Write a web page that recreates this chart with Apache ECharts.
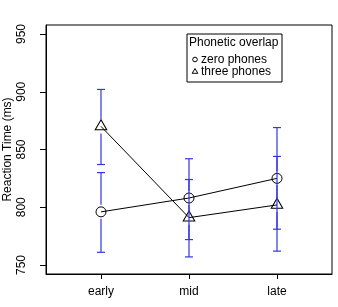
<!DOCTYPE html>
<html>
<head>
<meta charset="utf-8">
<script src="https://cdn.jsdelivr.net/npm/echarts@6/dist/echarts.min.js"></script>
<style>
html,body{margin:0;padding:0;background:#fff;}
#c{width:338px;height:307px;}
</style>
</head>
<body>
<div id="c"></div>
<script>
var categories = ['early', 'mid', 'late'];
var seriesNames = ['zero phones', 'three phones'];
var zeroMean = [796, 808, 825];
var zeroLow = [761, 772, 781];
var zeroHigh = [830, 842, 869];
var threeMean = [870, 791, 802];
var threeLow = [837, 757, 762];
var threeHigh = [902, 824, 844];
var yTicks = [750, 800, 850, 900, 950];
var legendTitle = 'Phonetic overlap';
var yTitle = 'Reaction Time (ms)';

var FONT = '"Liberation Sans", Arial, Helvetica, sans-serif';
var BAR = '#3535e8';

function pts(means) { return means.map(function (m, i) { return [i + 1, m]; }); }
function bars(means, lows, highs) { return means.map(function (m, i) { return [i + 1, m, lows[i], highs[i]]; }); }

function renderBar(params, api) {
  var x = api.value(0);
  var pm = api.coord([x, api.value(1)]);
  var pl = api.coord([x, api.value(2)]);
  var ph = api.coord([x, api.value(3)]);
  var gap = 7, cap = 4;
  var st = { stroke: BAR, lineWidth: 1.2 };
  return {
    type: 'group',
    children: [
      { type: 'line', shape: { x1: pm[0], y1: ph[1], x2: pm[0], y2: pm[1] - gap }, style: st },
      { type: 'line', shape: { x1: pm[0], y1: pm[1] + gap, x2: pm[0], y2: pl[1] }, style: st },
      { type: 'line', shape: { x1: pm[0] - cap, y1: ph[1], x2: pm[0] + cap, y2: ph[1] }, style: st },
      { type: 'line', shape: { x1: pm[0] - cap, y1: pl[1], x2: pm[0] + cap, y2: pl[1] }, style: st }
    ]
  };
}

var chart = echarts.init(document.getElementById('c'), null, { renderer: 'canvas' });
chart.setOption({
  backgroundColor: '#fff',
  animation: false,
  grid: { left: 46, right: 6, top: 25, bottom: 33, containLabel: false, outerBoundsMode: 'none', show: true, borderColor: '#000', borderWidth: 1, backgroundColor: 'transparent' },
  xAxis: {
    type: 'value', min: 0.375, max: 3.625,
    splitLine: { show: false },
    axisLine: { show: true, lineStyle: { color: '#000', width: 1 } },
    axisTick: { show: true, customValues: [1, 2, 3], length: 5, lineStyle: { color: '#000', width: 1 } },
    axisLabel: {
      customValues: [1, 2, 3], margin: 12, color: '#000', fontSize: 12, fontFamily: FONT,
      formatter: function (v) { return categories[Math.round(v) - 1]; }
    }
  },
  yAxis: {
    type: 'value', min: 742.2, max: 957.8,
    name: yTitle, nameLocation: 'middle', nameGap: 32, nameRotate: 90, nameMoveOverlap: false,
    nameTextStyle: { color: '#000', fontSize: 12, fontFamily: FONT },
    splitLine: { show: false },
    axisLine: { show: true, lineStyle: { color: '#000', width: 1 } },
    axisTick: { show: true, customValues: yTicks, length: 6, lineStyle: { color: '#000', width: 1 } },
    axisLabel: { customValues: yTicks, rotate: 90, margin: 18, color: '#000', fontSize: 12, fontFamily: FONT }
  },
  series: [
    {
      name: seriesNames[0], type: 'line', data: pts(zeroMean), z: 2,
      symbol: 'circle', symbolSize: 10, showAllSymbol: true,
      lineStyle: { color: '#000', width: 1 },
      itemStyle: { color: 'rgba(0,0,0,0)', borderColor: '#000', borderWidth: 1 }
    },
    {
      name: seriesNames[1], type: 'line', data: pts(threeMean), z: 2,
      symbol: 'triangle', symbolSize: [11.6, 10], symbolOffset: [0, -1.7], showAllSymbol: true,
      lineStyle: { color: '#000', width: 1 },
      itemStyle: { color: 'rgba(0,0,0,0)', borderColor: '#000', borderWidth: 1 }
    },
    { type: 'custom', renderItem: renderBar, data: bars(zeroMean, zeroLow, zeroHigh), z: 3, clip: false, silent: true },
    { type: 'custom', renderItem: renderBar, data: bars(threeMean, threeLow, threeHigh), z: 3, clip: false, silent: true }
  ],
  graphic: [
    { type: 'rect', shape: { x: 187, y: 34, width: 95, height: 48 }, style: { fill: '#fff', stroke: '#000', lineWidth: 1 }, z: 10 },
    { type: 'text', x: 189, y: 43, style: { text: legendTitle, font: '12px ' + FONT, fill: '#000', verticalAlign: 'middle' }, z: 11 },
    { type: 'circle', shape: { cx: 195, cy: 59.5, r: 2.3 }, style: { fill: 'none', stroke: '#000', lineWidth: 1 }, z: 11 },
    { type: 'polygon', shape: { points: [[195, 68.5], [197.8, 73.3], [192.2, 73.3]] }, style: { fill: 'none', stroke: '#000', lineWidth: 1 }, z: 11 },
    { type: 'text', x: 201, y: 59.5, style: { text: seriesNames[0], font: '12px ' + FONT, fill: '#000', verticalAlign: 'middle' }, z: 11 },
    { type: 'text', x: 201, y: 71.5, style: { text: seriesNames[1], font: '12px ' + FONT, fill: '#000', verticalAlign: 'middle' }, z: 11 }
  ]
});
</script>
</body>
</html>
